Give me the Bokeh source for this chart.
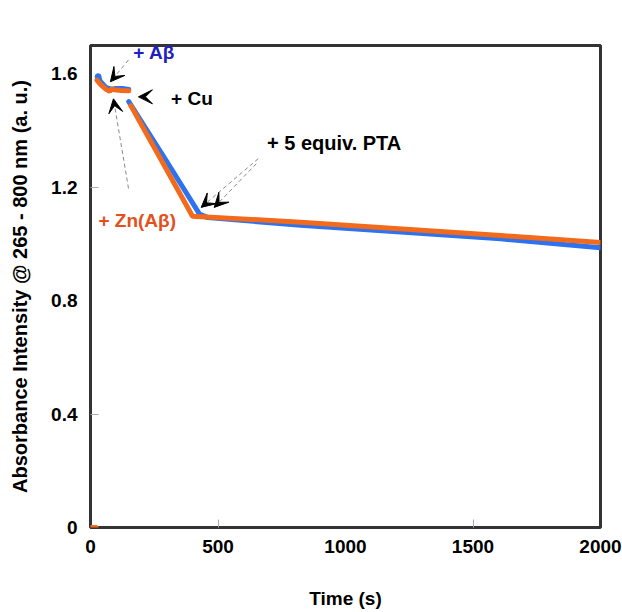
from bokeh.plotting import figure
from bokeh.models import Range1d, FixedTicker, Label, Arrow, VeeHead
from bokeh.embed import file_html
from bokeh.resources import INLINE

FONT = "Liberation Sans"

# ---- data ----
# orange trace (Zn(Abeta) first, then Cu, then PTA)
orange_t0 = [0, 10, 22]
orange_v0 = [0.0, 0.0, 0.0]
orange_t1 = [25, 40, 60, 75, 82, 95, 120, 150]
orange_v1 = [1.578, 1.562, 1.546, 1.538, 1.546, 1.544, 1.541, 1.540]
orange_t2 = [158, 280, 400, 824, 1608, 2000]
orange_v2 = [1.488, 1.292, 1.098, 1.077, 1.030, 1.005]

# blue trace (Abeta first, then Cu, then PTA)
blue_t1 = [30, 40, 60, 80, 100, 125, 150]
blue_v1 = [1.590, 1.572, 1.552, 1.546, 1.548, 1.548, 1.545]
blue_t2 = [150, 290, 427, 460, 824, 1608, 2000]
blue_v2 = [1.502, 1.304, 1.106, 1.093, 1.066, 1.018, 0.987]

x_ticks = [0, 500, 1000, 1500, 2000]
y_ticks = [0, 0.4, 0.8, 1.2, 1.6]
y_tick_labels = {0: "0", 0.4: "0.4", 0.8: "0.8", 1.2: "1.2", 1.6: "1.6"}

BLUE = "#2d72ee"
ORANGE = "#f26a1c"

p = figure(width=622, height=612, output_backend="svg", toolbar_location=None,
           x_range=Range1d(0, 2000), y_range=Range1d(0, 1.7),
           min_border_left=90, min_border_right=22, min_border_top=45, min_border_bottom=85)

p.background_fill_color = "white"
p.border_fill_color = "white"
p.grid.visible = False
p.outline_line_color = "#333333"
p.outline_line_width = 3

p.xaxis.ticker = FixedTicker(ticks=x_ticks, minor_ticks=[500, 1500])
p.yaxis.ticker = FixedTicker(ticks=y_ticks, minor_ticks=[0.4, 1.2])
p.yaxis.major_label_overrides = y_tick_labels
for ax in (p.xaxis, p.yaxis):
    ax.axis_line_color = None
    ax.major_tick_in = 0
    ax.major_tick_out = 0
    ax.minor_tick_in = 8
    ax.minor_tick_out = 0
    ax.minor_tick_line_color = "#aaaaaa"
    ax.major_label_text_font = FONT
    ax.major_label_text_font_style = "bold"
    ax.major_label_text_font_size = "19px"
    ax.major_label_text_color = "black"
    ax.axis_label_text_font = FONT
    ax.axis_label_text_font_style = "bold"
    ax.axis_label_text_color = "black"

p.xaxis.axis_label_text_font_size = "19px"
p.yaxis.axis_label_text_font_size = "20px"
p.xaxis.axis_label = "Time (s)"
p.yaxis.axis_label = "Absorbance Intensity @ 265 - 800 nm (a. u.)"
p.xaxis.major_label_standoff = 12
p.xaxis.axis_label_standoff = 32
p.yaxis.major_label_standoff = 13
p.yaxis.axis_label_standoff = 17

# blue traces (drawn first, under orange)
p.line(blue_t1, blue_v1, line_color=BLUE, line_width=5, line_cap="round")
p.line(blue_t2, blue_v2, line_color=BLUE, line_width=5, line_cap="round")
p.scatter([blue_t1[0]], [blue_v1[0]], size=6, color=BLUE)

# orange traces
p.line(orange_t0, orange_v0, line_color=ORANGE, line_width=5, line_cap="round")
p.line(orange_t1, orange_v1, line_color=ORANGE, line_width=5, line_cap="round")
p.line(orange_t2, orange_v2, line_color=ORANGE, line_width=5, line_cap="round")

# annotations
def head():
    return VeeHead(size=14, fill_color="black", line_color="black", line_width=1)

arrows = [
    # (x_start, y_start, x_end, y_end, line visible)
    (149, 1.649, 78, 1.572, True),    # + Abeta
    (149, 1.196, 90, 1.512, True),    # + Zn(Abeta)
    (658, 1.301, 434, 1.129, True),   # PTA 1
    (650, 1.283, 485, 1.129, True),   # PTA 2
    (205, 1.519, 188, 1.519, False),  # + Cu
]
for xs, ys, xe, ye, vis in arrows:
    p.add_layout(Arrow(end=head(), x_start=xs, y_start=ys, x_end=xe, y_end=ye,
                       line_color="#888888", line_width=1, line_dash="4 3",
                       line_alpha=1.0 if vis else 0.0))

labels = [
    ("+ A\u03b2", 168, 1.676, "#2020c0", "19px"),
    ("+ Cu", 316, 1.514, "black", "19px"),
    ("+ 5 equiv. PTA", 692, 1.356, "black", "20px"),
    ("+ Zn(A\u03b2)", 31, 1.082, "#e4501c", "19px"),
]
for txt, x, y, col, fs in labels:
    p.add_layout(Label(x=x, y=y, text=txt, text_font=FONT, text_font_style="bold",
                       text_font_size=fs, text_color=col,
                       text_align="left", text_baseline="middle"))

open("out.html", "w").write(file_html(p, INLINE))
